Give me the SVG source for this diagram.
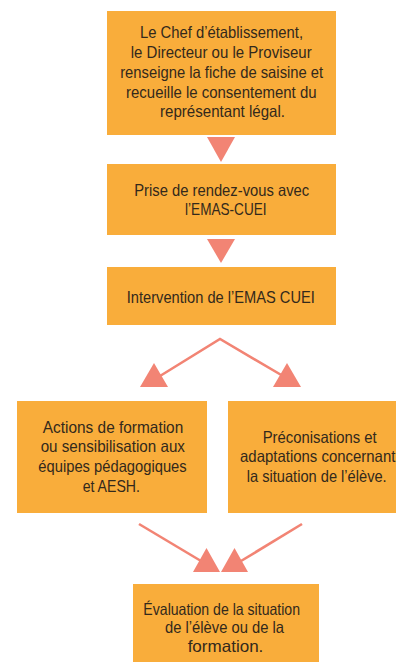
<svg xmlns="http://www.w3.org/2000/svg" width="396" height="662" viewBox="0 0 396 662">
<defs>
<style>
.box{fill:#F9AD3B;}
.t{font-family:"Liberation Sans Narrow","Liberation Sans",Arial,sans-serif;font-size:16.5px;fill:#33291c;text-anchor:middle;}
.ln{stroke:#F28474;stroke-width:2.6;fill:none;}
.ah{fill:#F28474;}
</style>
</defs>
<rect width="396" height="662" fill="#ffffff"/>
<g id="connectors">
<polygon class="ah" points="207,137 235,137 221,162"/>
<polygon class="ah" points="207,239 235,239 221,263"/>
<polyline class="ln" points="160,376 220,339 283,376"/>
<polygon class="ah" points="140,387 168,387 154,363"/>
<polygon class="ah" points="273,387 301,387 287,363"/>
<line class="ln" x1="139" y1="524" x2="201" y2="561"/>
<line class="ln" x1="302" y1="524" x2="241" y2="561"/>
<polygon class="ah" points="193,572 220,572 206.5,548"/>
<polygon class="ah" points="221,572 248,572 234.5,548"/>
</g>
<g id="n1">
<rect class="box" x="107" y="11" width="229" height="124"/>
<text class="t" x="221.5" y="38.3" textLength="163" lengthAdjust="spacingAndGlyphs">Le Chef d’établissement,</text>
<text class="t" x="221.2" y="58.3" textLength="181" lengthAdjust="spacingAndGlyphs">le Directeur ou le Proviseur</text>
<text class="t" x="221.7" y="78.3" textLength="203" lengthAdjust="spacingAndGlyphs">renseigne la fiche de saisine et</text>
<text class="t" x="221.3" y="97.7" textLength="190.5" lengthAdjust="spacingAndGlyphs">recueille le consentement du</text>
<text class="t" x="222.5" y="117" textLength="125" lengthAdjust="spacingAndGlyphs">représentant légal.</text>
</g>
<g id="n2">
<rect class="box" x="107" y="164" width="229" height="71"/>
<text class="t" x="221.7" y="196" textLength="175" lengthAdjust="spacingAndGlyphs">Prise de rendez-vous avec</text>
<text class="t" x="225.8" y="215.3" textLength="81.5" lengthAdjust="spacingAndGlyphs">l’EMAS-CUEI</text>
</g>
<g id="n3">
<rect class="box" x="107" y="267" width="229" height="58"/>
<text class="t" x="220.8" y="303.3" textLength="188" lengthAdjust="spacingAndGlyphs">Intervention de l’EMAS CUEI</text>
</g>
<g id="n4">
<rect class="box" x="17" y="401" width="190" height="112"/>
<text class="t" x="113" y="432.7" textLength="140.5" lengthAdjust="spacingAndGlyphs">Actions de formation</text>
<text class="t" x="112.8" y="452.3" textLength="144.3" lengthAdjust="spacingAndGlyphs">ou sensibilisation aux</text>
<text class="t" x="112.5" y="472.3" textLength="148.3" lengthAdjust="spacingAndGlyphs">équipes pédagogiques</text>
<text class="t" x="111.3" y="492.3" textLength="57.3" lengthAdjust="spacingAndGlyphs">et AESH.</text>
</g>
<g id="n5">
<rect class="box" x="228" y="401" width="190" height="112"/>
<text class="t" x="319.7" y="442.7" textLength="114" lengthAdjust="spacingAndGlyphs">Préconisations et</text>
<text class="t" x="317.7" y="462.3" textLength="155.3" lengthAdjust="spacingAndGlyphs">adaptations concernant</text>
<text class="t" x="316.7" y="482.3" textLength="140" lengthAdjust="spacingAndGlyphs">la situation de l’élève.</text>
</g>
<g id="n6">
<rect class="box" x="133" y="584" width="186" height="78"/>
<text class="t" x="221.7" y="615" textLength="156.7" lengthAdjust="spacingAndGlyphs">Évaluation de la situation</text>
<text class="t" x="224.5" y="633.3" textLength="119" lengthAdjust="spacingAndGlyphs">de l’élève ou de la</text>
<text class="t" x="225.5" y="652.3" textLength="75.7" lengthAdjust="spacingAndGlyphs">formation.</text>
</g>
</svg>
